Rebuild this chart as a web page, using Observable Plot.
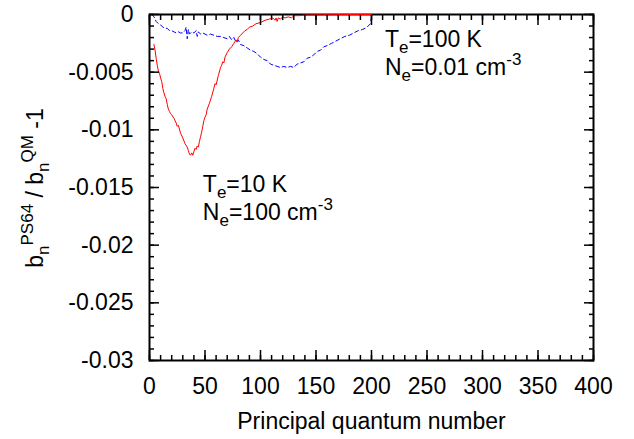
<!DOCTYPE html>
<html><head><meta charset="utf-8">
<script src="https://cdn.jsdelivr.net/npm/d3@7"></script>
<script src="https://cdn.jsdelivr.net/npm/@observablehq/plot@0.6"></script>
<style>body{margin:0;background:#fff} svg{display:block}</style>
</head><body><div id="chart"></div>
<script>
// Te=10 K, Ne=100 cm^-3 (red, solid)
const redN = [4,5,6,7,8,9,10,11,12,13,14,15,16,17,18,19,20,22,24,25,26,28,30,32,34,35,36,37,38,39,40,41,42,43,44,45,46,47,48,49,50,51,52,54,56,58,59,60,62,64,65,66,67,68,70,72,74,76,78,79,80,82,84,86,88,90,93,96,100,104,108,111,113,114,115,116,118,120,122,125,128,130,135,140,150,160,175,200];
const redV = [-0.0026,-0.0031,-0.0038,-0.0044,-0.0049,-0.0051,-0.0055,-0.0058,-0.0064,-0.0068,-0.0071,-0.0073,-0.0078,-0.0082,-0.0084,-0.0086,-0.0087,-0.0090,-0.0094,-0.0097,-0.0096,-0.0103,-0.0107,-0.0112,-0.0115,-0.0118,-0.0121,-0.0122,-0.0120,-0.0122,-0.0119,-0.0116,-0.0117,-0.0114,-0.0115,-0.0110,-0.0106,-0.0102,-0.0097,-0.0092,-0.0089,-0.0087,-0.0082,-0.0077,-0.0071,-0.0064,-0.0060,-0.0061,-0.0053,-0.0046,-0.0044,-0.0041,-0.0042,-0.0037,-0.0033,-0.0030,-0.0028,-0.0025,-0.0022,-0.0024,-0.0020,-0.0018,-0.0016,-0.0014,-0.0013,-0.0011,-0.0010,-0.0008,-0.0007,-0.0005,-0.0004,-0.0003,-0.0005,-0.0003,-0.0006,-0.0003,-0.0004,-0.0002,-0.0003,-0.0002,-0.0003,-0.0001,-0.0001,-0.00005,-0.00003,-0.00002,0,0];
// Te=100 K, Ne=0.01 cm^-3 (blue, dashed)
const blueN = [2,4,6,8,10,12,14,16,18,20,22,24,26,28,30,32,33,34,35,36,38,40,42,43,44,46,48,50,52,55,58,61,64,67,70,72,74,76,78,80,82,85,88,91,94,97,100,103,106,109,112,115,118,121,124,127,130,133,136,139,142,145,148,151,154,157,160,164,168,172,176,180,184,188,192,196,199,200];
const blueV = [0,-0.0002,-0.0006,-0.0008,-0.0009,-0.0011,-0.0012,-0.0012,-0.0014,-0.0014,-0.0015,-0.0016,-0.0015,-0.0016,-0.0016,-0.0014,-0.0011,-0.0021,-0.0013,-0.0017,-0.0015,-0.0016,-0.0014,-0.0019,-0.0015,-0.0017,-0.0016,-0.0017,-0.0018,-0.0017,-0.0018,-0.0019,-0.0019,-0.0020,-0.0021,-0.0019,-0.0022,-0.0020,-0.0024,-0.0022,-0.0026,-0.0027,-0.0029,-0.0031,-0.0032,-0.0034,-0.0037,-0.0039,-0.0040,-0.0043,-0.0044,-0.0045,-0.0046,-0.0045,-0.0046,-0.0045,-0.0046,-0.0043,-0.0042,-0.0041,-0.0038,-0.0037,-0.0035,-0.0032,-0.0031,-0.0028,-0.0027,-0.0025,-0.0023,-0.0021,-0.0019,-0.0018,-0.0016,-0.0014,-0.0013,-0.0011,-0.0008,-0.0002];

const xTicks = [0,50,100,150,200,250,300,350,400];
const xTickLabels = ["0","50","100","150","200","250","300","350","400"];
const yTicks = [0,-0.005,-0.01,-0.015,-0.02,-0.025,-0.03];
const yTickLabels = ["0","-0.005","-0.01","-0.015","-0.02","-0.025","-0.03"];
const xMinor = d3.range(0, 401, 10);
const yMinor = d3.range(0, 31).map(k => -k / 1000);

const red = redN.map((n, i) => ({n, v: redV[i]}));
const blue = blueN.map((n, i) => ({n, v: blueV[i]}));

const xDom = [0, 400], yDom = [-0.03, 0];
const font = "'Liberation Sans', Arial, Helvetica, sans-serif";

const plot = Plot.plot({
  width: 634, height: 439,
  marginLeft: 149, marginRight: 41, marginTop: 14, marginBottom: 79,
  x: {domain: xDom},
  y: {domain: yDom},
  marks: [
    Plot.frame({stroke: "#000", strokeWidth: 2}),
    Plot.line(blue, {x: "n", y: "v", stroke: "#0000ff", strokeWidth: 1, strokeDasharray: "4,3"}),
    Plot.line(red, {x: "n", y: "v", stroke: "#ff0000", strokeWidth: 1}),
    Plot.axisX(xMinor, {anchor: "bottom", tickSize: -5, strokeWidth: 1.5, fill: "none", label: null}),
    Plot.axisX(xMinor, {anchor: "top", tickSize: -5, strokeWidth: 1.5, fill: "none", label: null}),
    Plot.axisX(xTicks, {anchor: "top", tickSize: -10, strokeWidth: 1.5, fill: "none", label: null}),
    Plot.axisX(xTicks, {anchor: "bottom", tickSize: -10, strokeWidth: 1.5, tickPadding: 27,
      fontSize: 23, fontFamily: font,
      tickFormat: d => xTickLabels[xTicks.indexOf(d)],
      label: "Principal quantum number", labelAnchor: "center", labelArrow: "none", labelOffset: 68}),
    Plot.axisY(yMinor, {anchor: "left", tickSize: -5, strokeWidth: 1.5, fill: "none", label: null}),
    Plot.axisY(yMinor, {anchor: "right", tickSize: -5, strokeWidth: 1.5, fill: "none", label: null}),
    Plot.axisY(yTicks, {anchor: "right", tickSize: -10, strokeWidth: 1.5, fill: "none", label: null}),
    Plot.axisY(yTicks, {anchor: "left", tickSize: -10, strokeWidth: 1.5, tickPadding: 26,
      fontSize: 23, fontFamily: font,
      tickFormat: d => yTickLabels[yTicks.indexOf(d)], label: null})
  ]
});
document.getElementById("chart").appendChild(plot);

const svg = d3.select(plot);
const sx = plot.scale("x"), sy = plot.scale("y");
function richText(g, parts, big, small) {
  let cur = 0;
  for (const p of parts) {
    const target = p.s === "sub" ? 6 : p.s === "sup" ? -10 : 0;
    g.append("tspan").attr("dy", target - cur)
      .attr("font-size", p.s ? small : big).text(p.t);
    cur = target;
  }
}
function annot(x, y, parts) {
  const t = svg.append("text").attr("x", sx.apply(x)).attr("y", sy.apply(y))
    .attr("text-anchor", "start").attr("font-family", font).attr("fill", "#000");
  richText(t, parts, 23, 17);
}
annot(212.5, -0.00286, [{t: "T"}, {t: "e", s: "sub"}, {t: "=100 K"}]);
annot(212.5, -0.00525, [{t: "N"}, {t: "e", s: "sub"}, {t: "=0.01 cm"}, {t: "-3", s: "sup"}]);
annot(48.5, -0.01543, [{t: "T"}, {t: "e", s: "sub"}, {t: "=10 K"}]);
annot(48.5, -0.01782, [{t: "N"}, {t: "e", s: "sub"}, {t: "=100 cm"}, {t: "-3", s: "sup"}]);

const yl = svg.append("text").attr("transform", "translate(43,188) rotate(-90)")
  .attr("text-anchor", "middle").attr("font-family", font).attr("fill", "#000");
richText(yl, [{t: "b"}, {t: "n", s: "sub"}, {t: "PS64", s: "sup"}, {t: " / b"}, {t: "n", s: "sub"}, {t: "QM", s: "sup"}, {t: " -1"}], 23, 17);
</script>
</body></html>
